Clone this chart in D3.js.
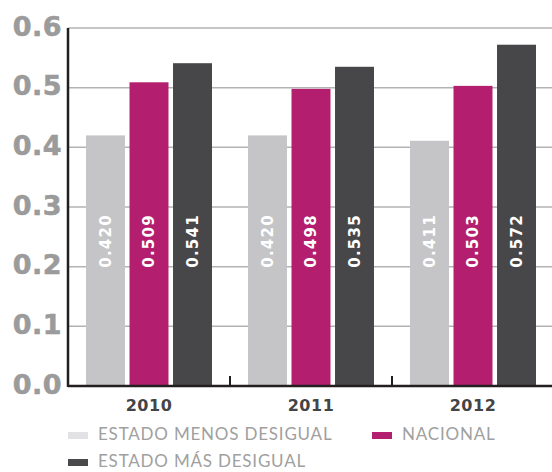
<!DOCTYPE html>
<html>
<head>
<meta charset="utf-8">
<script src="https://cdn.jsdelivr.net/npm/d3@7"></script>
<style>
  body { margin: 0; background: #fff; }
  svg { display: block; }
</style>
</head>
<body>
<div id="chart"></div>
<script>
// datos
var years = ['2010', '2011', '2012'];
var series = ['ESTADO MENOS DESIGUAL', 'NACIONAL', 'ESTADO MÁS DESIGUAL'];
var menosDesigual = [0.420, 0.420, 0.411];
var nacional = [0.509, 0.498, 0.503];
var masDesigual = [0.541, 0.535, 0.572];
var yTicks = [0, 0.1, 0.2, 0.3, 0.4, 0.5, 0.6];

var barColors = ['#c5c5c7', '#b31f6e', '#474749'];
var legendColors = ['#e2e2e4', '#b31f6e', '#4a4a4c'];

var width = 552, height = 472;

var svg = d3.select('#chart')
	.append('svg')
	.attr('width', width)
	.attr('height', height);

var x0 = d3.scaleBand()
	.domain(years)
	.range([68, 554])
	.paddingInner(0)
	.paddingOuter(0);

var x1 = d3.scaleBand()
	.domain(d3.range(series.length))
	.range([18, x0.bandwidth() - 18])
	.paddingInner(0.104);

var y = d3.scaleLinear()
	.domain([0, 0.6])
	.range([386, 28]);

var data = years.map((yr, i) => ({
	year: yr,
	values: [menosDesigual[i], nacional[i], masDesigual[i]]
}));

// gridlines
svg.append('g')
	.selectAll('line')
	.data(yTicks.filter(d => d > 0))
	.enter().append('line')
	.attr('x1', 68).attr('x2', width)
	.attr('y1', d => y(d)).attr('y2', d => y(d))
	.attr('stroke', '#b3b3b3')
	.attr('stroke-width', 1.5);

// y labels
svg.append('g')
	.selectAll('text')
	.data(yTicks)
	.enter().append('text')
	.attr('x', 62)
	.attr('y', d => y(d) - 2)
	.attr('dy', '0.36em')
	.attr('text-anchor', 'end')
	.attr('font-family', 'DejaVu Sans')
	.attr('font-weight', 'bold')
	.attr('font-size', 27)
	.attr('letter-spacing', 0.5)
	.attr('stroke', '#9b9b9b')
	.attr('stroke-width', 0.6)
	.attr('fill', '#9b9b9b')
	.text(d => d.toFixed(1));

// bars
var groups = svg.append('g')
	.selectAll('g')
	.data(data)
	.enter().append('g')
	.attr('transform', d => 'translate(' + x0(d.year) + ',0)');

groups.selectAll('rect')
	.data(d => d.values)
	.enter().append('rect')
	.attr('x', (d, i) => x1(i))
	.attr('width', x1.bandwidth())
	.attr('y', d => y(d))
	.attr('height', d => y(0) - y(d))
	.attr('fill', (d, i) => barColors[i]);

groups.selectAll('text')
	.data(d => d.values)
	.enter().append('text')
	.attr('transform', (d, i) => 'translate(' + (x1(i) + x1.bandwidth() / 2) + ',' + (y(0.2) + 1) + ') rotate(-90)')
	.attr('dy', '0.36em')
	.attr('font-family', 'DejaVu Sans')
	.attr('font-weight', 'bold')
	.attr('font-size', 15)
	.attr('letter-spacing', 1.2)
	.attr('fill', '#fff')
	.text(d => d.toFixed(3));

// axes
var xAxis = d3.axisBottom(x0).tickSize(0).tickPadding(14);
var gx = svg.append('g')
	.attr('transform', 'translate(0,' + y(0) + ')')
	.call(xAxis);
gx.select('.domain').attr('stroke', '#231f20').attr('stroke-width', 2.5).attr('d', 'M68,0H' + width);
gx.selectAll('text')
	.attr('font-family', 'DejaVu Sans')
	.attr('font-weight', 'bold')
	.attr('font-size', 16)
	.attr('letter-spacing', 0.5)
	.attr('fill', '#444446');

// separators between groups
svg.append('g')
	.selectAll('line')
	.data(years.slice(1))
	.enter().append('line')
	.attr('x1', d => x0(d)).attr('x2', d => x0(d))
	.attr('y1', y(0)).attr('y2', y(0) - 10)
	.attr('stroke', '#231f20')
	.attr('stroke-width', 2);

svg.append('line')
	.attr('x1', 68).attr('x2', 68)
	.attr('y1', y(0.6)).attr('y2', y(0) + 1)
	.attr('stroke', '#231f20')
	.attr('stroke-width', 2.5);

// legend
var legendPos = [[68, 440], [372, 440], [68, 467]];
var legend = svg.append('g')
	.selectAll('g')
	.data(series)
	.enter().append('g')
	.attr('transform', (d, i) => 'translate(' + legendPos[i][0] + ',' + legendPos[i][1] + ')');

legend.append('rect')
	.attr('x', 0).attr('y', -8)
	.attr('width', 20).attr('height', 7)
	.attr('fill', (d, i) => legendColors[i]);

legend.append('text')
	.attr('x', 30)
	.attr('font-family', 'Lato')
	.attr('font-size', 17)
	.attr('letter-spacing', 0.8)
	.attr('fill', '#a0a0a0')
	.text(d => d);
</script>
</body>
</html>
